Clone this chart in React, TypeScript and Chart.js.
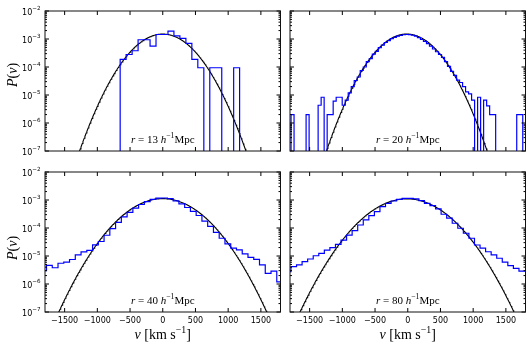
import React, { useEffect, useRef } from 'react';
import { Chart, registerables } from 'chart.js';

Chart.register(...registerables);

const W = 531;
const H = 349;

// separations r (h^-1 Mpc) of the four panels
const separations = [13, 20, 40, 80];

// r = 13 : histogram bin edges and densities
const edgesR13 = [-651, -560, -468, -377, -286, -194, -103, -12, 80, 171, 262, 354, 445, 536, 628, 719, 810, 902, 993, 1084, 1175];
const densR13 = [1.88e-4, 2.8e-4, 3.8e-4, 9.4e-4, 9.4e-4, 5.6e-4, 1.45e-3, 1.45e-3, 1.9e-3, 1.3e-3,
  1.05e-3, 7.0e-4, 1.88e-4, 9.4e-5, 0, 9.4e-5, 9.4e-5, 0, 0, 9.4e-5];

// r = 20 : bins of 46 km/s starting at -1830
const binStartR20 = -1830;
const binWidthR20 = 46;
const densR20 = [
  0, 2e-6, 0, 0, 0, 0, 2e-6, 0, 0, 0,
  4.3e-6, 8.3e-6, 0, 2e-6, 2e-6, 6e-6, 8.3e-6, 8.3e-6, 4.3e-6, 6.6e-6,
  1.2e-5, 2.0e-5, 3.3e-5, 4.4e-5, 7.5e-5, 1.0e-4, 1.55e-4, 2.0e-4, 2.9e-4, 3.6e-4,
  4.9e-4, 6.0e-4, 7.5e-4, 8.7e-4, 1.03e-3, 1.14e-3, 1.27e-3, 1.35e-3, 1.42e-3, 1.45e-3,
  1.44e-3, 1.36e-3, 1.26e-3, 1.12e-3, 9.6e-4, 8.2e-4, 6.8e-4, 5.6e-4, 4.4e-4, 3.5e-4,
  2.8e-4, 2.2e-4, 1.55e-4, 1.05e-4, 7.0e-5, 5.0e-5, 3.4e-5, 2.8e-5, 2.0e-5, 1.3e-5,
  1.1e-5, 6.6e-6, 0, 8.3e-6, 0, 6.6e-6, 4.1e-6, 2e-6, 2e-6, 0,
  0, 0, 0, 0, 0, 0, 2e-6, 2e-6, 0, 0,
];

// r = 40 : bins of 88 km/s starting at -1865
const binStartR40 = -1865;
const binWidthR40 = 88;
const densR40 = [
  3.0e-6, 4.6e-6, 3.8e-6, 5.5e-6, 6.0e-6, 7.5e-6, 1.1e-5, 1.4e-5, 1.6e-5, 2.5e-5,
  3.3e-5, 5.5e-5, 9.5e-5, 1.6e-4, 2.5e-4, 3.6e-4, 5.1e-4, 6.9e-4, 8.8e-4, 1.05e-3,
  1.17e-3, 1.18e-3, 1.12e-3, 9.3e-4, 7.3e-4, 5.4e-4, 3.9e-4, 2.8e-4, 1.75e-4, 1.15e-4,
  7.0e-5, 4.3e-5, 2.7e-5, 1.9e-5, 1.65e-5, 1.2e-5, 9.0e-6, 7.6e-6, 4.8e-6, 2.4e-6,
  2.9e-6, 1.2e-6, 1.2e-6,
];

// r = 80 : bins of 85 km/s starting at -1870
const binStartR80 = -1870;
const binWidthR80 = 85;
const densR80 = [
  2.75e-6, 4.2e-6, 4.8e-6, 6.3e-6, 7.8e-6, 1.02e-5, 1.25e-5, 1.63e-5, 1.98e-5, 2.6e-5,
  3.7e-5, 5.6e-5, 8.0e-5, 1.28e-4, 1.94e-4, 2.77e-4, 3.83e-4, 5.8e-4, 7.6e-4, 9.2e-4,
  1.05e-3, 1.15e-3, 1.15e-3, 1.09e-3, 9.5e-4, 7.6e-4, 6.3e-4, 4.8e-4, 3.1e-4, 2.25e-4,
  1.48e-4, 9.8e-5, 6.5e-5, 4.3e-5, 2.47e-5, 1.9e-5, 1.42e-5, 1.09e-5, 8.3e-6, 6.0e-6,
  4.5e-6, 3.6e-6, 2.9e-6, 2.9e-6,
];

// Gaussian model curves (peak, mean, sigma) per panel
const gaussPeak = [1.5e-3, 1.5e-3, 1.12e-3, 1.1e-3];
const gaussMean = [0, -15, 0, -12];
const gaussSigma = [290, 280, 368, 379];

const xTickValues = [-1500, -1000, -500, 0, 500, 1000, 1500];
const xTickLabels = ['\u22121500', '\u22121000', '\u2212500', '0', '500', '1000', '1500'];
const yDecades = [-7, -6, -5, -4, -3, -2];
const yTickExpLabels = ['\u22127', '\u22126', '\u22125', '\u22124', '\u22123', '\u22122'];
const logMinor = [2, 3, 4, 5, 6, 7, 8, 9];

const X_MIN = -1800;
const X_MAX = 1800;
const Y_MIN = 1e-7;
const Y_MAX = 1e-2;
const FLOOR = 1e-12;

function edgesFrom(start: number, width: number, n: number) {
  const e: number[] = [];
  for (let i = 0; i <= n; i++) e.push(start + i * width);
  return e;
}

function stepPoints(edges: number[], dens: number[]) {
  const pts: { x: number; y: number }[] = [{ x: edges[0], y: FLOOR }];
  dens.forEach((d, i) => {
    const v = d > 0 ? d : FLOOR;
    pts.push({ x: edges[i], y: v }, { x: edges[i + 1], y: v });
  });
  pts.push({ x: edges[edges.length - 1], y: FLOOR });
  return pts;
}

function gaussPoints(i: number) {
  const pts: { x: number; y: number }[] = [];
  for (let v = X_MIN; v <= X_MAX; v += 10) {
    const z = (v - gaussMean[i]) / gaussSigma[i];
    pts.push({ x: v, y: gaussPeak[i] * Math.exp(-0.5 * z * z) });
  }
  return pts;
}

const panels = [
  { r: separations[0], edges: edgesR13, dens: densR13, showX: false, showY: true, rect: { l: 45, t: 11, r: 280.5, b: 151 } },
  { r: separations[1], edges: edgesFrom(binStartR20, binWidthR20, densR20.length), dens: densR20, showX: false, showY: false, rect: { l: 290, t: 11, r: 525.5, b: 151 } },
  { r: separations[2], edges: edgesFrom(binStartR40, binWidthR40, densR40.length), dens: densR40, showX: true, showY: true, rect: { l: 45, t: 172, r: 280.5, b: 312 } },
  { r: separations[3], edges: edgesFrom(binStartR80, binWidthR80, densR80.length), dens: densR80, showX: true, showY: false, rect: { l: 290, t: 172, r: 525.5, b: 312 } },
];

type Run = { t: string; it?: boolean; sup?: boolean };
const SERIF = "'Liberation Serif', 'DejaVu Serif', serif";
const SANS = "'DejaVu Sans', 'Liberation Sans', sans-serif";

function runFont(r: Run, size: number) {
  return `${r.it ? 'italic ' : ''}${r.sup ? Math.round(size * 0.7 * 10) / 10 : size}px ${SERIF}`;
}

function drawRuns(ctx: CanvasRenderingContext2D, runs: Run[], cx: number, baseline: number, size: number) {
  let total = 0;
  const widths = runs.map((r) => {
    ctx.font = runFont(r, size);
    const w = ctx.measureText(r.t).width;
    total += w;
    return w;
  });
  let x = cx - total / 2;
  ctx.textAlign = 'left';
  ctx.textBaseline = 'alphabetic';
  runs.forEach((r, i) => {
    ctx.font = runFont(r, size);
    ctx.fillText(r.t, x, r.sup ? baseline - size * 0.42 : baseline);
    x += widths[i];
  });
}

const decorPlugin = {
  id: 'decor',
  afterDatasetsDraw(chart: any, _args: any, opts: any) {
    const { ctx, chartArea: a } = chart;
    const xs = chart.scales.x;
    const ys = chart.scales.y;
    ctx.save();
    ctx.strokeStyle = '#000';
    ctx.lineWidth = 1;
    ctx.beginPath();
    for (const v of xTickValues) {
      const px = xs.getPixelForValue(v);
      ctx.moveTo(px, a.bottom);
      ctx.lineTo(px, a.bottom - 4);
      ctx.moveTo(px, a.top);
      ctx.lineTo(px, a.top + 4);
    }
    for (const d of yDecades) {
      const py = ys.getPixelForValue(Math.pow(10, d));
      ctx.moveTo(a.left, py);
      ctx.lineTo(a.left + 4, py);
      ctx.moveTo(a.right, py);
      ctx.lineTo(a.right - 4, py);
      if (d < -2) {
        for (const m of logMinor) {
          const pm = ys.getPixelForValue(m * Math.pow(10, d));
          ctx.moveTo(a.left, pm);
          ctx.lineTo(a.left + 2, pm);
          ctx.moveTo(a.right, pm);
          ctx.lineTo(a.right - 2, pm);
        }
      }
    }
    ctx.stroke();
    ctx.strokeStyle = '#111';
    ctx.strokeRect(a.left, a.top, a.right - a.left, a.bottom - a.top);

    ctx.fillStyle = '#000';
    if (opts.showX) {
      ctx.font = `8px ${SANS}`;
      ctx.textAlign = 'center';
      ctx.textBaseline = 'alphabetic';
      xTickValues.forEach((v, i) => {
        ctx.fillText(xTickLabels[i], xs.getPixelForValue(v), a.bottom + 11);
      });
      drawRuns(ctx, [{ t: 'v', it: true }, { t: ' [km s' }, { t: '\u22121', sup: true }, { t: ']' }],
        (a.left + a.right) / 2, a.bottom + 27, 14);
    }
    if (opts.showY) {
      yDecades.forEach((d, i) => {
        const py = ys.getPixelForValue(Math.pow(10, d));
        ctx.font = `5.6px ${SANS}`;
        const ws = ctx.measureText(yTickExpLabels[i]).width;
        ctx.font = `8px ${SANS}`;
        const wm = ctx.measureText('10').width;
        const right = a.left - 4.5;
        ctx.textAlign = 'left';
        ctx.textBaseline = 'alphabetic';
        ctx.fillText('10', right - ws - wm, py + 4.2);
        ctx.font = `5.6px ${SANS}`;
        ctx.fillText(yTickExpLabels[i], right - ws, py - 0.6);
      });
      const cy = (a.top + a.bottom) / 2 + (a.top < 100 ? -6 : 6);
      ctx.save();
      ctx.translate(16.5, cy);
      ctx.rotate(-Math.PI / 2);
      drawRuns(ctx, [{ t: 'P', it: true }, { t: '(' }, { t: 'v', it: true }, { t: ')' }], 0, 0, 14);
      ctx.restore();
    }
    drawRuns(ctx, [{ t: 'r', it: true }, { t: ' = ' }, { t: String(opts.r) }, { t: ' ' }, { t: 'h', it: true }, { t: '\u22121', sup: true }, { t: 'Mpc' }],
      (a.left + a.right) / 2, a.bottom - 8.5, 11);
    ctx.restore();
  },
};

export default function App() {
  const canvases = useRef<(HTMLCanvasElement | null)[]>([]);

  useEffect(() => {
    const charts = panels.map((p, i) => {
      const el = canvases.current[i]!;
      return new Chart(el, {
        type: 'line',
        data: {
          datasets: [
            {
              data: stepPoints(p.edges, p.dens),
              borderColor: '#0000ff',
              borderWidth: 1.2,
              pointRadius: 0,
              tension: 0,
              fill: false,
            },
            {
              data: gaussPoints(i),
              borderColor: '#000000',
              borderWidth: 1.1,
              pointRadius: 0,
              tension: 0,
              fill: false,
            },
          ],
        },
        options: {
          animation: false,
          responsive: false,
          maintainAspectRatio: false,
          devicePixelRatio: 1,
          events: [],
          layout: {
            padding: { left: p.rect.l, top: p.rect.t, right: W - p.rect.r, bottom: H - p.rect.b },
          },
          scales: {
            x: { type: 'linear', min: X_MIN, max: X_MAX, display: false },
            y: { type: 'logarithmic', min: Y_MIN, max: Y_MAX, display: false },
          },
          plugins: {
            legend: { display: false },
            tooltip: { enabled: false },
            decor: { showX: p.showX, showY: p.showY, r: p.r },
          } as any,
        },
        plugins: [decorPlugin as any],
      } as any);
    });
    return () => charts.forEach((c) => c.destroy());
  }, []);

  return (
    <div style={{ position: 'fixed', left: 0, top: 0, width: W, height: H, background: '#fff' }}>
      {panels.map((_, i) => (
        <canvas
          key={i}
          ref={(el) => { canvases.current[i] = el; }}
          width={W}
          height={H}
          style={{ position: 'absolute', left: 0, top: 0, width: W, height: H }}
        />
      ))}
    </div>
  );
}
